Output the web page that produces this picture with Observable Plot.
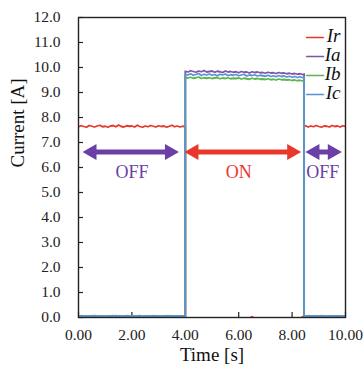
<!DOCTYPE html>
<html>
<head>
<meta charset="utf-8">
<script src="https://cdn.jsdelivr.net/npm/d3@7"></script>
<script src="https://cdn.jsdelivr.net/npm/@observablehq/plot@0.6"></script>
<style>
  html, body { margin: 0; padding: 0; background: #fff; }
</style>
</head>
<body>
<div id="chart"></div>
<script>
// Time axis (s)
const time = [
  0.0,0.1,0.2,0.3,0.4,0.5,0.6,0.7,0.8,0.9,
  1.0,1.1,1.2,1.3,1.4,1.5,1.6,1.7,1.8,1.9,
  2.0,2.1,2.2,2.3,2.4,2.5,2.6,2.7,2.8,2.9,
  3.0,3.1,3.2,3.3,3.4,3.5,3.6,3.7,3.8,3.9,
  4.0,4.0,4.1,4.2,4.3,4.4,4.5,4.6,4.7,4.8,
  4.9,5.0,5.1,5.2,5.3,5.4,5.5,5.6,5.7,5.8,
  5.9,6.0,6.1,6.2,6.3,6.4,6.5,6.6,6.7,6.8,
  6.9,7.0,7.1,7.2,7.3,7.4,7.5,7.6,7.7,7.8,
  7.9,8.0,8.1,8.2,8.3,8.4,8.45,8.45,8.5,8.6,
  8.7,8.8,8.9,9.0,9.1,9.2,9.3,9.4,9.5,9.6,
  9.7,9.8,9.9,10.0
];
const Ir = [
  7.63,7.67,7.64,7.61,7.68,7.65,7.62,7.66,7.69,7.63,
  7.65,7.61,7.66,7.68,7.63,7.70,7.64,7.62,7.67,7.65,
  7.66,7.62,7.69,7.64,7.61,7.66,7.63,7.68,7.65,7.62,
  7.67,7.64,7.66,7.61,7.65,7.69,7.63,7.66,7.62,7.65,
  7.64,-0.04,-0.04,-0.04,-0.04,-0.04,-0.04,-0.04,-0.04,-0.04,
  -0.04,-0.04,-0.04,-0.04,-0.04,-0.04,-0.04,-0.04,-0.04,-0.04,
  -0.04,-0.04,-0.04,-0.04,-0.04,-0.04,0.03,-0.04,-0.04,-0.04,
  -0.04,-0.04,-0.04,-0.04,-0.04,-0.04,-0.04,-0.04,-0.04,-0.04,
  -0.04,-0.04,-0.04,-0.04,-0.04,0.03,-0.04,7.64,7.67,7.62,
  7.66,7.63,7.68,7.64,7.61,7.66,7.65,7.62,7.68,7.64,
  7.66,7.62,7.67,7.64
];
const Ia = [
  0.04,0.07,0.05,0.03,0.06,0.05,0.08,0.04,0.05,0.06,
  0.03,0.06,0.05,0.07,0.04,0.06,0.05,0.03,0.07,0.05,
  0.04,0.06,0.05,0.07,0.03,0.05,0.06,0.04,0.07,0.05,
  0.06,0.04,0.05,0.07,0.03,0.06,0.05,0.04,0.06,0.05,
  0.05,9.85,9.82,9.87,9.84,9.81,9.86,9.83,9.88,9.82,
  9.84,9.86,9.81,9.85,9.83,9.80,9.86,9.82,9.84,9.81,
  9.83,9.79,9.84,9.81,9.82,9.78,9.83,9.80,9.82,9.79,
  9.80,9.77,9.81,9.78,9.79,9.76,9.80,9.77,9.78,9.75,
  9.77,9.74,9.76,9.73,9.75,9.72,9.74,0.06,0.04,0.07,
  0.05,0.04,0.06,0.05,0.07,0.04,0.05,0.06,0.04,0.05,
  0.06,0.05,0.04,0.06
];
const Ib = [
  0.03,0.05,0.04,0.06,0.04,0.03,0.05,0.04,0.06,0.04,
  0.05,0.03,0.05,0.04,0.06,0.04,0.05,0.03,0.04,0.05,
  0.04,0.06,0.04,0.03,0.05,0.04,0.06,0.05,0.03,0.04,
  0.05,0.04,0.06,0.03,0.05,0.04,0.05,0.06,0.04,0.05,
  0.04,9.60,9.58,9.61,9.57,9.59,9.62,9.56,9.59,9.57,
  9.59,9.56,9.58,9.60,9.55,9.58,9.56,9.59,9.55,9.57,
  9.56,9.58,9.54,9.57,9.55,9.53,9.57,9.54,9.56,9.53,
  9.54,9.52,9.55,9.51,9.53,9.50,9.54,9.51,9.52,9.50,
  9.51,9.48,9.50,9.47,9.49,9.46,9.48,0.04,0.05,0.03,
  0.05,0.04,0.06,0.04,0.05,0.03,0.05,0.04,0.06,0.04,
  0.05,0.04,0.03,0.05
];
const Ic = [
  0.05,0.04,0.06,0.04,0.05,0.07,0.04,0.05,0.06,0.04,
  0.05,0.06,0.04,0.05,0.07,0.05,0.04,0.06,0.05,0.04,
  0.06,0.04,0.05,0.07,0.04,0.05,0.06,0.04,0.05,0.06,
  0.04,0.05,0.06,0.04,0.07,0.05,0.04,0.06,0.05,0.04,
  0.05,9.73,9.70,9.75,9.69,9.72,9.76,9.68,9.73,9.70,
  9.74,9.69,9.72,9.67,9.73,9.70,9.74,9.68,9.71,9.69,
  9.72,9.67,9.70,9.73,9.66,9.70,9.68,9.71,9.66,9.69,
  9.67,9.65,9.69,9.64,9.67,9.63,9.68,9.64,9.66,9.62,
  9.65,9.61,9.64,9.60,9.63,9.59,9.62,0.05,0.04,0.06,
  0.04,0.05,0.06,0.04,0.05,0.07,0.04,0.05,0.06,0.04,
  0.05,0.06,0.04,0.05
];

const seriesNames = ["Ir", "Ia", "Ib", "Ic"];
const seriesColors = ["#e8382c", "#7d55aa", "#5db54e", "#5b93d3"];
const seriesValues = [Ir, Ia, Ib, Ic];

// Annotation arrows (double-headed) and their labels
const arrowStart = [0.15, 3.97, 8.50];
const arrowEnd   = [3.76, 8.34, 9.86];
const arrowLevel = [6.62, 6.62, 6.62];
const arrowColors = ["#6a3fa6", "#e8382c", "#6a3fa6"];
const labelText = ["OFF", "ON", "OFF"];
const labelX = [2.0, 6.0, 9.15];
const labelY = [5.8, 5.8, 5.8];

const xTicks = [0, 2, 4, 6, 8, 10];
const yTicks = [0,1,2,3,4,5,6,7,8,9,10,11,12];

const W = 363, H = 373;
const mL = 78, mR = 18, mT = 17, mB = 56;
const plotW = W - mL - mR, plotH = H - mT - mB;
const FONT = "'Liberation Serif', 'Times New Roman', serif";

const lineMarks = seriesValues.map((vals, i) =>
  Plot.line(time.map((t, j) => ({t, v: vals[j]})), {
    x: "t", y: "v", stroke: seriesColors[i], strokeWidth: 1.8, curve: "linear", clip: true
  })
);

const arrows = arrowStart.map((s, i) => ({x1: s, x2: arrowEnd[i], y: arrowLevel[i], c: arrowColors[i]}));
const labels = labelText.map((s, i) => ({text: s, x: labelX[i], y: labelY[i], c: arrowColors[i]}));

const legendMarks = [];
seriesNames.forEach((n, i) => {
  legendMarks.push(Plot.text([n], {
    frameAnchor: "top-right", text: d => d, dx: -5, dy: 11 + i * 19,
    textAnchor: "end", fontStyle: "italic", fontSize: 19, fill: "#111", fontFamily: FONT
  }));
  legendMarks.push(Plot.text(["\u2014"], {
    frameAnchor: "top-right", text: d => d, dx: -22, dy: 11 + i * 19,
    textAnchor: "end", fontSize: 17, fill: seriesColors[i], stroke: seriesColors[i], strokeWidth: 0.8, fontFamily: FONT
  }));
});

const chart = Plot.plot({
  width: W, height: H,
  marginLeft: mL, marginRight: mR, marginTop: mT, marginBottom: mB,
  style: {fontFamily: FONT, fontSize: "15.5px", background: "#fff", color: "#222"},
  x: {domain: [0, 10]},
  y: {domain: [0, 12]},
  color: {type: "identity"},
  marks: [
    Plot.axisY({ticks: yTicks, tickSize: 0, tickPadding: 18, tickFormat: d3.format(".1f"), label: null, fontSize: 15.5}),
    Plot.axisX({ticks: xTicks, tickSize: 0, tickPadding: 11, tickFormat: d3.format(".2f"), label: null, fontSize: 15.5}),
    Plot.tickY(yTicks, {y: d => d, insetRight: plotW - 5, stroke: "#222", strokeWidth: 1.2}),
    Plot.tickX(xTicks, {x: d => d, insetTop: plotH - 5, stroke: "#222", strokeWidth: 1.2}),
    ...lineMarks,
    Plot.ruleY(arrows, {y: "y", x1: "x1", x2: "x2", stroke: "c", strokeWidth: 5, insetLeft: 8, insetRight: 8}),
    Plot.dot(arrows, {x: "x1", y: "y", symbol: "triangle", r: 6, rotate: -90, fill: "c", stroke: null, dx: 9.3}),
    Plot.dot(arrows, {x: "x2", y: "y", symbol: "triangle", r: 6, rotate: 90, fill: "c", stroke: null, dx: -9.3}),
    Plot.text(labels, {x: "x", y: "y", text: "text", fill: "c", fontSize: 18, fontFamily: FONT}),
    ...legendMarks,
    Plot.frame({stroke: "#222", strokeWidth: 1.4}),
    Plot.text(["Current [A]"], {frameAnchor: "left", text: d => d, rotate: -90, dx: -61, fontSize: 19, fill: "#111", fontFamily: FONT}),
    Plot.text(["Time [s]"], {frameAnchor: "bottom", text: d => d, dy: 43, fontSize: 19, fill: "#111", fontFamily: FONT})
  ]
});
document.getElementById("chart").appendChild(chart);
</script>
</body>
</html>
